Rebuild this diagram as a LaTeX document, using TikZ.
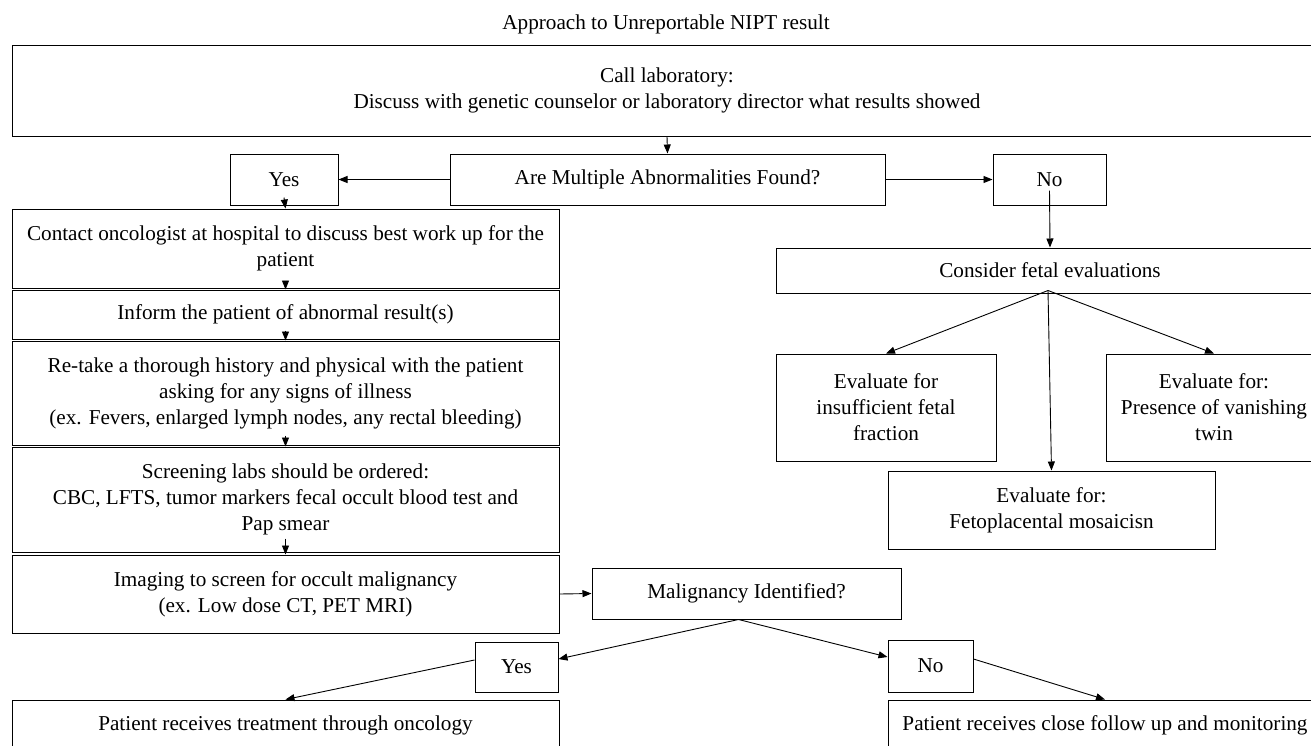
\documentclass[tikz,border=0pt]{standalone}
\usepackage{fontspec}
\setmainfont{Liberation Serif}
\usetikzlibrary{arrows.meta,positioning,calc}
\tikzset{
  fbox/.style={draw,line width=1pt,align=center,inner sep=0pt,
    font=\fontsize{21.2}{26}\selectfont},
  farrow/.style={-{Triangle[length=9pt,width=7pt]},line width=0.9pt},
}

\begin{document}
\begin{tikzpicture}[x=1pt,y=-1pt]
\clip (0,0) rectangle (1311,745);
\node[font=\fontsize{21.2}{26}\selectfont] (title) at (666,24) {Approach to Unreportable NIPT result};
\node[fbox,minimum width=1310pt,minimum height=91pt] (call) at (667,90.5)
  {Call laboratory:\\Discuss with genetic counselor or laboratory director what results showed};
\node[fbox,minimum width=435pt,minimum height=51pt] (multi) at (667.5,179.5) {Are Multiple Abnormalities Found?};
\node[fbox,minimum width=108pt,minimum height=51pt] (yes1) at (284,179.5) {Yes};
\node[fbox,minimum width=113pt,minimum height=51pt] (no1) at (1049.5,179.5) {No};
% left column
\node[fbox,minimum width=547pt,minimum height=79pt] (contact) at (285.5,248.5)
  {Contact oncologist at hospital to discuss best work up for the\\patient};
\node[fbox,minimum width=547pt,minimum height=49pt] (inform) at (285.5,314.5) {Inform the patient of abnormal result(s)};
\node[fbox,minimum width=547pt,minimum height=104pt] (retake) at (285.5,393)
  {Re-take a thorough history and physical with the patient\\asking for any signs of illness\\(ex. Fevers, enlarged lymph nodes, any rectal bleeding)};
\node[fbox,minimum width=547pt,minimum height=105pt] (screen) at (285.5,499.5)
  {Screening labs should be ordered:\\CBC, LFTS, tumor markers fecal occult blood test and\\Pap smear};
\node[fbox,minimum width=547pt,minimum height=78pt] (imaging) at (285.5,594)
  {Imaging to screen for occult malignancy\\(ex. Low dose CT, PET MRI)};
\node[fbox,minimum width=309pt,minimum height=51pt] (malig) at (746.5,593.5) {Malignancy Identified?};
\node[fbox,minimum width=83pt,minimum height=50pt] (yes2) at (516.5,667) {Yes};
\node[fbox,minimum width=85pt,minimum height=52pt] (no2) at (930.5,666) {No};
\node[fbox,minimum width=547pt,minimum height=50pt] (treat) at (285.5,725) {Patient receives treatment through oncology};
\node[fbox,minimum width=434pt,minimum height=50pt] (follow) at (1105,725) {Patient receives close follow up and monitoring};
% right column
\node[fbox,minimum width=548pt,minimum height=45pt] (consider) at (1050,270.5) {Consider fetal evaluations};
\node[fbox,minimum width=220pt,minimum height=107pt] (insuff) at (886,407.5) {Evaluate for\\insufficient fetal\\fraction};
\node[fbox,minimum width=216pt,minimum height=107pt] (vanish) at (1214,407.5) {Evaluate for:\\Presence of vanishing\\twin};
\node[fbox,minimum width=327pt,minimum height=78pt] (mosaic) at (1051.5,510) {Evaluate for:\\Fetoplacental mosaicisn};
\coordinate (cf) at ($(consider.south)+(-2,-3)$);
\coordinate (mb) at ($(malig.south)+(-8,0)$);

\draw[farrow] (call.south) -- (multi.north);
\draw[farrow] (multi.west) -- (yes1.east);
\draw[farrow] (multi.east) -- (no1.west);
\draw[farrow] ($(yes1.south)+(0,-8)$) -- (contact.north);
\draw[farrow] ($(contact.south)+(0,-7)$) -- (inform.north);
\draw[farrow] ($(inform.south)+(0,-9)$) -- (retake.north);
\draw[farrow] ($(retake.south)+(0,-10)$) -- (screen.north);
\draw[farrow] ($(screen.south)+(0,-14)$) -- (imaging.north);
\draw[farrow] (imaging.east) -- (malig.west);
\draw[farrow] (mb) -- ($(yes2.east)+(0,-8)$);
\draw[farrow] (mb) -- ($(no2.west)+(0,-9)$);
\draw[farrow] ($(yes2.west)+(0,-7)$) -- (treat.north);
\draw[farrow] ($(no2.east)+(0,-7)$) -- (follow.north);
\draw[farrow] ($(no1.south)+(0,-15)$) -- (consider.north);
\draw[farrow] (cf) -- (insuff.north);
\draw[farrow] (cf) -- (mosaic.north);
\draw[farrow] (cf) -- (vanish.north);
\end{tikzpicture}
\end{document}
